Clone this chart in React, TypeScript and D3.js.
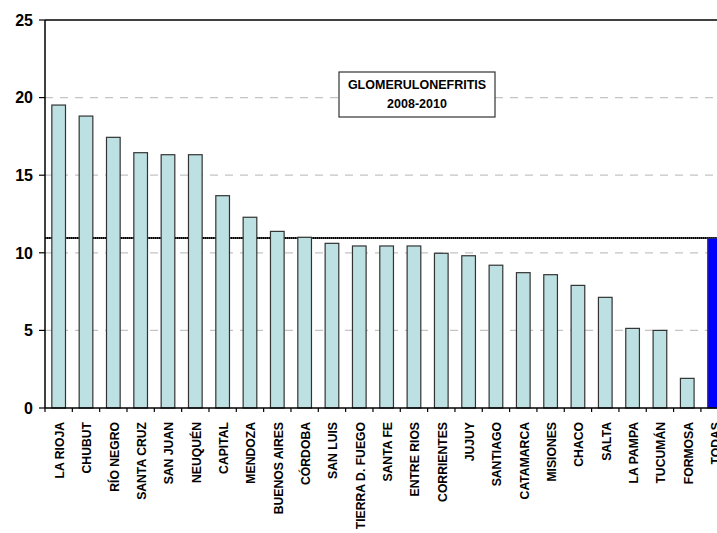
import React from "react";
import * as d3 from "d3";

// Glomerulonefritis incidence by province, 2008-2010
const provinces = [
  "LA RIOJA", "CHUBUT", "RÍO NEGRO", "SANTA CRUZ", "SAN JUAN", "NEUQUÉN",
  "CAPITAL", "MENDOZA", "BUENOS AIRES", "CÓRDOBA", "SAN LUIS",
  "TIERRA D. FUEGO", "SANTA FE", "ENTRE RIOS", "CORRIENTES", "JUJUY",
  "SANTIAGO", "CATAMARCA", "MISIONES", "CHACO", "SALTA", "LA PAMPA",
  "TUCUMÁN", "FORMOSA", "TODAS",
];
const rates = [
  19.52, 18.81, 17.44, 16.45, 16.32, 16.32, 13.68, 12.29, 11.38, 11.0,
  10.61, 10.44, 10.44, 10.44, 9.97, 9.81, 9.2, 8.72, 8.59, 7.9, 7.13,
  5.13, 5.0, 1.91, 10.95,
];
const totalLabel = "TODAS";
const nationalRate = 10.95;
const yTicks = [0, 5, 10, 15, 20, 25];
const titleLines = ["GLOMERULONEFRITIS", "2008-2010"];

const W = 717;
const H = 533;
const left = 45;
const top = 20;
const bottom = 408;
const bandW = 27.33;
const right = left + bandW * provinces.length;

const FONT = "'Liberation Sans', Arial, sans-serif";

export default function App() {
  const x = d3
    .scaleBand<string>()
    .domain(provinces)
    .range([left, right])
    .paddingInner(0.5)
    .paddingOuter(0.25);
  const y = d3.scaleLinear().domain([0, 25]).range([bottom, top]);
  const boundaries = d3.range(provinces.length + 1).map((i) => left + i * bandW);

  return (
    <div style={{ position: "fixed", left: 0, top: 0 }}>
      <svg width={W} height={H} style={{ display: "block", background: "#fff" }}>
        {/* dashed gridlines */}
        {yTicks.slice(1, -1).map((t) => (
          <line
            key={t}
            x1={left}
            x2={right}
            y1={y(t)}
            y2={y(t)}
            stroke="#c4c4c4"
            strokeWidth={1.3}
            strokeDasharray="8,7"
          />
        ))}

        {/* national average reference line */}
        <line
          x1={left}
          x2={right}
          y1={y(nationalRate)}
          y2={y(nationalRate)}
          stroke="#444"
          strokeWidth={2}
        />
        <line
          x1={left}
          x2={right}
          y1={y(nationalRate)}
          y2={y(nationalRate)}
          stroke="#000"
          strokeWidth={2}
          strokeDasharray="1,1"
        />

        {/* bars */}
        {provinces.map((p, i) => (
          <rect
            key={p}
            x={x(p)}
            y={y(rates[i])}
            width={x.bandwidth()}
            height={bottom - y(rates[i])}
            fill={p === totalLabel ? "#0000ff" : "#bde0e2"}
            stroke="#333"
            strokeWidth={1.2}
          />
        ))}

        {/* plot frame */}
        <line x1={left} x2={right} y1={top} y2={top} stroke="#000" strokeWidth={1.5} />
        <line x1={left} x2={left} y1={top} y2={bottom} stroke="#000" strokeWidth={1.5} />
        <line x1={left} x2={right} y1={bottom} y2={bottom} stroke="#000" strokeWidth={1.5} />

        {/* y axis ticks and labels */}
        {yTicks.map((t) => (
          <g key={t}>
            <line x1={left - 6} x2={left} y1={y(t)} y2={y(t)} stroke="#000" strokeWidth={1.2} />
            <text
              x={33}
              y={y(t)}
              dy="0.36em"
              textAnchor="end"
              fontFamily={FONT}
              fontWeight="bold"
              fontSize={16}
              fill="#000"
            >
              {t}
            </text>
          </g>
        ))}

        {/* x axis ticks */}
        {boundaries.map((bx, i) => (
          <line key={i} x1={bx} x2={bx} y1={bottom} y2={bottom + 4} stroke="#000" strokeWidth={1.2} />
        ))}

        {/* category labels */}
        {provinces.map((p) => {
          const cx = (x(p) ?? 0) + x.bandwidth() / 2;
          return (
            <text
              key={p}
              transform={`translate(${cx + 5.5},422) rotate(-90)`}
              textAnchor="end"
              fontFamily={FONT}
              fontWeight="bold"
              fontSize={12.2}
              fill="#000"
            >
              {p}
            </text>
          );
        })}

        {/* title box */}
        <rect x={339} y={72} width={156} height={45} fill="#fff" stroke="#333" strokeWidth={1.2} />
        {titleLines.map((line, i) => (
          <text
            key={line}
            x={417}
            y={84.5 + i * 19}
            dy="0.36em"
            textAnchor="middle"
            fontFamily={FONT}
            fontWeight="bold"
            fontSize={12.5}
            fill="#000"
          >
            {line}
          </text>
        ))}
      </svg>
    </div>
  );
}
